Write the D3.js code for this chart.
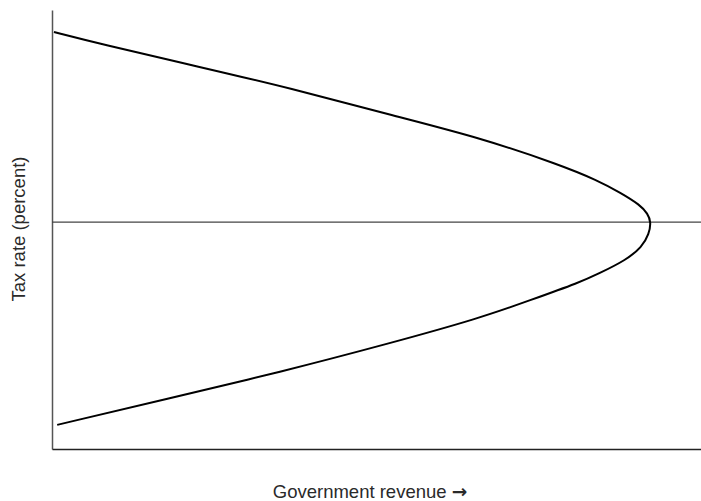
<!DOCTYPE html>
<html lang="en">
<head>
<meta charset="UTF-8">
<title>Laffer curve</title>
<script src="https://d3js.org/d3.v7.min.js"></script>
<style>
  body { margin: 0; background: #fff; font-family: "Liberation Sans", Arial, sans-serif; }
  .label { font-size: 18.5px; fill: #2a2a2a; }
</style>
</head>
<body>
<div id="chart"></div>
<script>
// Curve points: revenue (0-100) and tax rate (0-100),
// ordered from the highest tax rate down to the lowest
const revenue = [0.3, 7.4, 22.8, 36.7, 52.1, 66.2, 78.3, 83.9, 87.7, 90.6, 91.8, 92.3,
                 92.0, 90.9, 88.4, 84.3, 81.4, 73.7, 65.9, 52.1, 35.1, 18.2, 0.8];
const taxRate = [95.0, 92.3, 87.0, 82.2, 76.1, 70.8, 64.7, 61.3, 58.3, 55.6, 53.6, 51.7,
                 49.0, 46.0, 43.0, 40.0, 38.0, 33.9, 29.8, 24.1, 17.5, 11.6, 5.5];
const peakRate = 51.7;
const xLabel = "Government revenue";
const yLabel = "Tax rate (percent)";

const width = 701, height = 501;
const margin = { top: 10, right: 0, bottom: 52, left: 52 };

const svg = d3.select("#chart").append("svg")
    .attr("width", width)
    .attr("height", height);

const x = d3.scaleLinear().domain([0, 100]).range([margin.left, width - margin.right]);
const y = d3.scaleLinear().domain([0, 100]).range([height - margin.bottom, margin.top]);

// axes without ticks
svg.append("g")
    .attr("transform", `translate(${margin.left},0)`)
    .call(d3.axisLeft(y).ticks(0).tickSize(0))
    .call(g => g.select(".domain").attr("stroke", "#555").attr("stroke-width", 1.5));

svg.append("g")
    .attr("transform", `translate(0,${height - margin.bottom})`)
    .call(d3.axisBottom(x).ticks(0).tickSize(0))
    .call(g => g.select(".domain").attr("stroke", "#222").attr("stroke-width", 1.5));

// horizontal line at the revenue-maximising rate
svg.append("line")
    .attr("x1", x(0)).attr("x2", x(100))
    .attr("y1", y(peakRate)).attr("y2", y(peakRate))
    .attr("stroke", "#444").attr("stroke-width", 1.3);

const pts = revenue.map((r, i) => [r, taxRate[i]]);
const line = d3.line()
    .x(d => x(d[0]))
    .y(d => y(d[1]))
    .curve(d3.curveBasis);

svg.append("path")
    .datum(pts)
    .attr("d", line)
    .attr("fill", "none")
    .attr("stroke", "#000")
    .attr("stroke-width", 2);

const xt = svg.append("text")
    .attr("class", "label")
    .attr("x", 370)
    .attr("y", 498)
    .attr("text-anchor", "middle");
xt.append("tspan").text(xLabel + " ");
xt.append("tspan").attr("font-family", "DejaVu Sans").attr("font-weight", "bold").text("\u2192");

svg.append("text")
    .attr("class", "label")
    .attr("transform", "translate(25,229) rotate(-90)")
    .attr("text-anchor", "middle")
    .attr("font-size", "19.5px")
    .text(yLabel);
</script>
</body>
</html>
